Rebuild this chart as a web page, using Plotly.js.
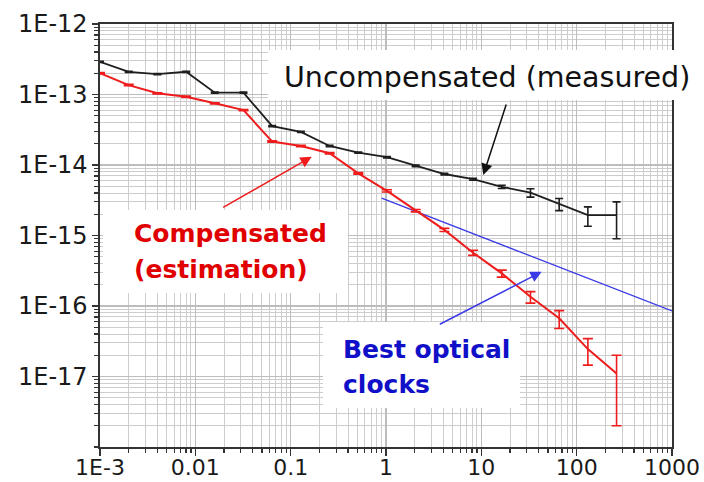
<!DOCTYPE html>
<html>
<head>
<meta charset="utf-8">
<script src="https://cdn.plot.ly/plotly-3.0.1.min.js"></script>
<style>
  html, body { margin: 0; padding: 0; background: #fff; }
  #chart { width: 704px; height: 482px; }
</style>
</head>
<body>
<div id="chart"></div>
<script>
// Averaging time (s)
const tau = [0.001, 0.002, 0.004, 0.008, 0.016, 0.032, 0.064, 0.128, 0.256, 0.512,
             1.024, 2.048, 4.096, 8.192, 16.384, 32.768, 65.536, 131.072, 262.144];

// Uncompensated (measured)
const uncompY = [2.9e-13, 2.1e-13, 1.95e-13, 2.1e-13, 1.06e-13, 1.06e-13, 3.55e-14, 2.95e-14,
                 1.86e-14, 1.5e-14, 1.29e-14, 9.7e-15, 7.45e-15, 6.3e-15, 4.9e-15, 4.05e-15,
                 2.8e-15, 1.95e-15, 1.95e-15];
const uncompErr = [6e-15, 4e-15, 4e-15, 4e-15, 2e-15, 2e-15, 7e-16, 6e-16,
                   4e-16, 3e-16, 3e-16, 2.5e-16, 2e-16, 2e-16, 2.5e-16, 5.5e-16,
                   5.5e-16, 6e-16, 1.05e-15];

// Compensated (estimation)
const compY = [2.0e-13, 1.36e-13, 1.04e-13, 9.3e-14, 7.5e-14, 6.0e-14, 2.15e-14, 1.86e-14,
               1.47e-14, 7.6e-15, 4.3e-15, 2.25e-15, 1.2e-15, 5.7e-16, 2.9e-16, 1.35e-16,
               6.7e-17, 2.45e-17, 1.1e-17];
const compErr = [4e-15, 3e-15, 2e-15, 2e-15, 1.5e-15, 1.2e-15, 5e-16, 4e-16,
                 3e-16, 2e-16, 1.5e-16, 9e-17, 6e-17, 4.8e-17, 3.3e-17, 2.5e-17,
                 1.9e-17, 1.0e-17, 0.9e-17];

// Best optical clocks (reference line)
const clockX = [0.9, 1000];
const clockY = [3.4e-15, 8.5e-17];

// Tick labels
const xTickVals = [0.001, 0.01, 0.1, 1, 10, 100, 1000];
const xTickText = ['1E-3', '0.01', '0.1', '1', '10', '100', '1000'];
const yTickVals = [1e-17, 1e-16, 1e-15, 1e-14, 1e-13, 1e-12];
const yTickText = ['1E-17', '1E-16', '1E-15', '1E-14', '1E-13', '1E-12'];

const FONT = 'DejaVu Sans, Verdana, sans-serif';

const traces = [
  {
    x: clockX, y: clockY, mode: 'lines', type: 'scatter',
    line: { color: '#3b3be6', width: 1.3 }, hoverinfo: 'skip'
  },
  {
    x: tau, y: uncompY, mode: 'lines', type: 'scatter',
    line: { color: '#1e1e1e', width: 1.8 },
    error_y: { type: 'data', array: uncompErr, visible: true, color: '#1e1e1e', thickness: 1.6, width: 4 }
  },
  {
    x: tau, y: compY, mode: 'lines', type: 'scatter',
    line: { color: '#ee1c1c', width: 2 },
    error_y: { type: 'data', array: compErr, visible: true, color: '#ee1c1c', thickness: 1.6, width: 5 }
  }
];

const gridMajor = '#bdbdbd';
const gridMinor = '#cdcdcd';

function box(x0, x1, y0, y1) {
  return { type: 'rect', xref: 'paper', yref: 'paper', x0, x1, y0, y1,
           fillcolor: '#ffffff', line: { width: 0 }, layer: 'above' };
}

function label(text, x, y, color, size, bold, xanchor) {
  return { text: text, xref: 'paper', yref: 'paper', x: x, y: y, showarrow: false,
           xanchor: xanchor || 'left', yanchor: 'middle', borderpad: 0,
           font: { family: FONT, size: size, color: color, weight: bold ? 'bold' : 'normal' } };
}

function arrow(x, y, ax, ay, color) {
  return { text: '', xref: 'paper', yref: 'paper', x: x, y: y, ax: ax, ay: ay,
           showarrow: true, arrowhead: 2, arrowsize: 1.5, arrowwidth: 1.5,
           arrowcolor: color, standoff: 0, startstandoff: 0 };
}

const layout = {
  width: 704, height: 482,
  margin: { l: 100, r: 32, t: 24, b: 35 },
  paper_bgcolor: '#ffffff', plot_bgcolor: '#ffffff',
  showlegend: false,
  font: { family: FONT, color: '#1a1a1a' },
  xaxis: {
    type: 'log', range: [-3, 3], tickmode: 'array', tickvals: xTickVals, ticktext: xTickText,
    ticks: 'outside', ticklen: 7, tickwidth: 1.5, tickcolor: '#333', ticklabelstandoff: -7,
    showline: true, linecolor: '#333', linewidth: 1.6, mirror: true,
    showgrid: true, gridcolor: gridMajor, gridwidth: 1.3, zeroline: false,
    tickfont: { family: FONT, size: 22, color: '#1a1a1a' },
    minor: { dtick: 'D1', ticks: 'outside', ticklen: 4, tickwidth: 1.2, tickcolor: '#333',
             showgrid: true, gridcolor: gridMinor, gridwidth: 1 }
  },
  yaxis: {
    type: 'log', range: [-18, -12], tickmode: 'array', tickvals: yTickVals, ticktext: yTickText,
    ticks: 'outside', ticklen: 6, tickwidth: 1.5, tickcolor: '#333',
    showline: true, linecolor: '#333', linewidth: 1.6, mirror: true,
    showgrid: true, gridcolor: gridMajor, gridwidth: 1.3, zeroline: false,
    tickfont: { family: FONT, size: 24, color: '#1a1a1a' },
    minor: { dtick: 'D1', ticks: 'outside', ticklen: 4, tickwidth: 1.2, tickcolor: '#333',
             showgrid: true, gridcolor: gridMinor, gridwidth: 1 }
  },
  shapes: [
    box(0.2937, 1.040, 0.8203, 0.9385),
    box(0.0052, 0.4336, 0.3641, 0.5603),
    box(0.3899, 0.7343, 0.0922, 0.2955)
  ],
  annotations: [
    label('Uncompensated (measured)', 0.6757, 0.873, '#111111', 28.5, false, 'center'),
    label('Compensated', 0.0577, 0.5052, '#e00000', 25, true),
    label('(estimation)', 0.0577, 0.4201, '#e00000', 25, true),
    label('Best optical', 0.4231, 0.2310, '#1010c8', 25, true),
    label('clocks', 0.4231, 0.1482, '#1010c8', 25, true),
    arrow(0.6701, 0.6430, 23.4, -72, '#111111'),
    arrow(0.3701, 0.6863, -90, 51.6, '#ee1c1c'),
    arrow(0.7722, 0.4144, -103.4, 53.3, '#3b3be6')
  ]
};

Plotly.newPlot('chart', traces, layout, { displayModeBar: false, staticPlot: true });
</script>
</body>
</html>
